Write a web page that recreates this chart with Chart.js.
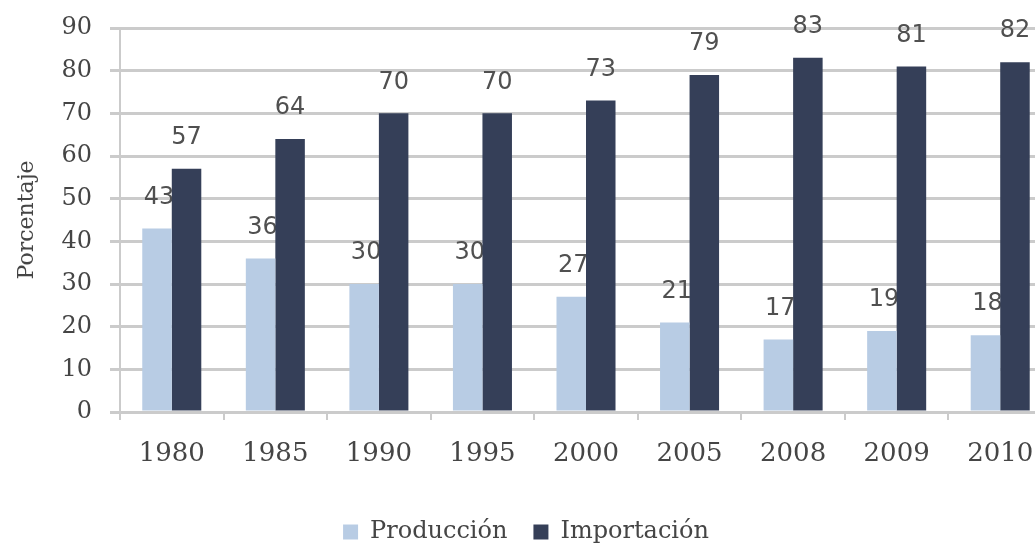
<!DOCTYPE html>
<html>
<head>
<meta charset="utf-8">
<script src="https://cdn.jsdelivr.net/npm/chart.js@4"></script>
<style>
  html, body { margin: 0; padding: 0; background: #fff; overflow: hidden; }
</style>
</head>
<body>
<canvas id="chart" width="1060" height="547"></canvas>
<script>
const years = ['1980', '1985', '1990', '1995', '2000', '2005', '2008', '2009', '2010']
const produccion = [43, 36, 30, 30, 27, 21, 17, 19, 18]
const importacion = [57, 64, 70, 70, 73, 79, 83, 81, 82]
const yTicks = [0, 10, 20, 30, 40, 50, 60, 70, 80, 90]

const lightBlue = '#b8cce4'
const darkBlue = '#353f58'
const gridGrey = '#cbcbcb'
const textGrey = '#454545'

const drawLabels = (chart, index, dx) => {
    const c = chart.ctx
    const meta = chart.getDatasetMeta(index)
    c.save()
    c.font = '24px "DejaVu Sans"'
    c.fillStyle = '#505050'
    c.textAlign = 'center'
    c.textBaseline = 'middle'
    meta.data.forEach((bar, i) => {
        c.fillText(chart.data.datasets[index].data[i], bar.x + dx, bar.y - 31)
    })
    c.restore()
}

// production labels go under the dark bars, import labels on top
const valueLabels = {
    id: 'valueLabels',
    beforeDatasetsDraw(chart) { drawLabels(chart, 0, 2) },
    afterDatasetsDraw(chart) { drawLabels(chart, 1, 0) }
}

new Chart(document.getElementById('chart'), {
    type: 'bar',
    data: {
        labels: years,
        datasets: [
            { label: 'Producción', data: produccion, backgroundColor: lightBlue },
            { label: 'Importación', data: importacion, backgroundColor: darkBlue }
        ]
    },
    options: {
        responsive: false,
        animation: false,
        layout: { padding: { top: 28, right: 8, left: 0, bottom: -7 } },
        datasets: { bar: { categoryPercentage: 0.57, barPercentage: 1 } },
        plugins: {
            tooltip: { enabled: false },
            legend: {
                position: 'bottom',
                labels: {
                    boxWidth: 15,
                    boxHeight: 15,
                    padding: 26,
                    color: textGrey,
                    font: { family: '"DejaVu Serif"', size: 24 }
                }
            }
        },
        scales: {
            x: {
                afterFit: (s) => { s.height = 82 },
                grid: { offset: true, drawOnChartArea: false, drawTicks: true, tickLength: 8, color: gridGrey, lineWidth: 2 },
                border: { display: true, color: gridGrey, width: 3 },
                ticks: { color: textGrey, padding: 19, font: { family: '"DejaVu Serif"', size: 26 } }
            },
            y: {
                min: 0,
                max: 90,
                afterFit: (s) => {
                    s.width = 120
                    s.paddingTop = 0
                    s.paddingBottom = 0
                },
                afterBuildTicks: (s) => { s.ticks = yTicks.map(v => ({ value: v })) },
                grid: { color: gridGrey, lineWidth: 3, tickLength: 10 },
                border: { display: true, color: gridGrey, width: 2 },
                ticks: { color: textGrey, padding: 18, font: { family: '"DejaVu Serif"', size: 24 } },
                title: {
                    display: true,
                    text: 'Porcentaje',
                    color: textGrey,
                    padding: { top: 14, bottom: 0 },
                    font: { family: '"DejaVu Serif"', size: 22 }
                }
            }
        }
    },
    plugins: [valueLabels]
})
</script>
</body>
</html>
